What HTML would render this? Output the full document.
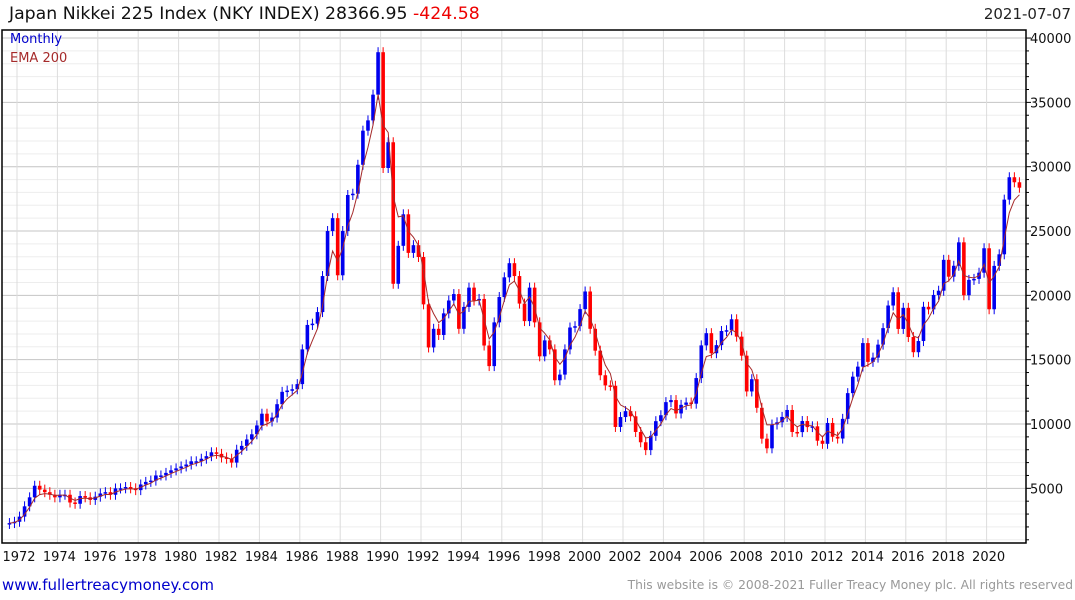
<!DOCTYPE html>
<html><head><meta charset="utf-8"><style>
body{margin:0;width:1075px;height:600px;background:#fff;font-family:"DejaVu Sans","Liberation Sans",sans-serif;overflow:hidden;position:relative}
.t{position:absolute;white-space:nowrap}
</style></head><body>
<div class="t" style="left:9px;top:4px;font-size:17.3px;color:#111">Japan Nikkei 225 Index (NKY INDEX) 28366.95 <span style="color:#e00">-424.58</span></div>
<div class="t" style="right:4px;top:5px;font-size:15px;color:#222">2021-07-07</div>
<svg id="c" width="1075" height="600" style="position:absolute;left:0;top:0"></svg>
<div class="t" style="left:10px;top:32px;font-size:13px;color:#00c">Monthly</div>
<div class="t" style="left:10px;top:51px;font-size:13px;color:#a52a2a">EMA 200</div>
<div class="t" style="left:2px;top:576px;font-size:15px;color:#00c">www.fullertreacymoney.com</div>
<div class="t" style="right:2px;top:578px;font-size:12.3px;color:#999">This website is © 2008-2021 Fuller Treacy Money plc. All rights reserved</div>
<script>
const startYear = 1971.5;
const closes = [2300,2400,
2800,3600,4300,5200, 4900,4700,4500,4300, 4500,4500,3900,3800, 4400,4300,4100,4350,
4600,4700,4500,4990, 5000,5100,5000,4860, 5300,5500,5600,6000, 6000,6200,6400,6550,
6700,6850,7100,7100, 7300,7500,7800,7680, 7400,7300,7000,8000, 8300,8800,9200,9890,
10800,10200,10500,11540, 12500,12600,12700,13100, 15800,17700,17800,18700, 21500,25000,26000,21560,
25000,27800,27900,30150, 32800,33600,35600,38900, 29900,31900,20900,23850, 26300,23300,23900,22980,
19300,15950,17400,16920, 18600,19600,20100,17400, 19100,20600,19600,19720, 16100,14500,17900,19870,
21400,22500,21500,19360, 18000,20600,17900,15260, 16500,15800,13400,13840, 15800,17500,17600,18930,
20300,17400,15700,13790, 13000,12970,9770,10540, 11000,10600,9380,8580, 7970,9080,10220,10680,
11700,11860,10820,11490, 11670,11580,13570,16110, 17060,15500,16130,17230, 17290,18140,16790,15310,
12530,13480,11260,8860, 8110,9960,10130,10550, 11090,9380,9370,10230, 9760,9820,8700,8460,
10080,9010,8870,10400, 12400,13680,14460,16290, 14830,15160,16170,17450, 19210,20240,17390,19030,
16760,15580,16450,19110, 18910,20030,20360,22760, 21450,22300,24120,20010, 21200,21280,21760,23660,
18920,22290,23190,27440, 29180,28790,28367];
const yTicks = [5000,10000,15000,20000,25000,30000,35000,40000];
const xTicks = [1972,1974,1976,1978,1980,1982,1984,1986,1988,1990,1992,1994,1996,1998,2000,2002,2004,2006,2008,2010,2012,2014,2016,2018,2020];
const NS="http://www.w3.org/2000/svg", svg=document.getElementById('c');
const X=yr=>17+(yr-1972)*20.2, Y=v=>166.7+(30000-v)*0.012865;
const L=2,R=1026,T=30,B=543;
function mk(tag,a){const e=document.createElementNS(NS,tag);for(const k in a)e.setAttribute(k,a[k]);svg.appendChild(e);return e;}
for(let v=1000;v<=41000;v+=1000){const y=Y(v);if(y<T||y>B)continue;
 const g=mk('line',{x1:L,x2:R,y1:y,y2:y,stroke:v%5000?'#ededed':'#c4c4c4','stroke-width':1});
 
 
 const tk=mk('line',{x1:R,x2:R+(v%5000?3:5),y1:y,y2:y,stroke:'#000'});
 
 }
xTicks.forEach(yr=>{const x=X(yr);
 const g=mk('line',{x1:x,x2:x,y1:T,y2:B,stroke:'#dcdcdc'});
 
 
 const t=mk('text',{x:x+2,y:561,'font-size':13,'text-anchor':'middle',fill:'#111','font-family':'DejaVu Sans, sans-serif'});t.textContent=yr;
 
 });
yTicks.forEach(v=>{const t=mk('text',{x:1030,y:Y(v)+5,'font-size':13,fill:'#111','font-family':'DejaVu Sans, sans-serif'});t.textContent=v;
 
 });
const fr=mk('rect',{x:L,y:T,width:R-L,height:B-T,fill:'none',stroke:'#000','stroke-width':1.5});


let ema=closes[0],pts=[];
closes.forEach((c,i)=>{const o=i?closes[i-1]:c*0.97;const x=X(startYear+i*0.25+0.125);
 const col=c>=o?'#0000ee':'#ff0000';const hi=Math.max(o,c),lo=Math.min(o,c);
 const w=mk('line',{x1:x,x2:x,y1:Y(hi)-5,y2:Y(lo)+5,stroke:col,'stroke-width':1});
 
 
 const r=mk('rect',{x:x-1.8,y:Y(hi),width:3.6,height:Math.max(1.5,Y(lo)-Y(hi)),fill:col});
 
 
 ema=ema+0.42*(c-ema);pts.push(x.toFixed(1)+','+Y(ema).toFixed(1));});
const el=mk('polyline',{points:pts.join(' '),fill:'none',stroke:'#a52a2a','stroke-width':1});


</script>
</body></html>
